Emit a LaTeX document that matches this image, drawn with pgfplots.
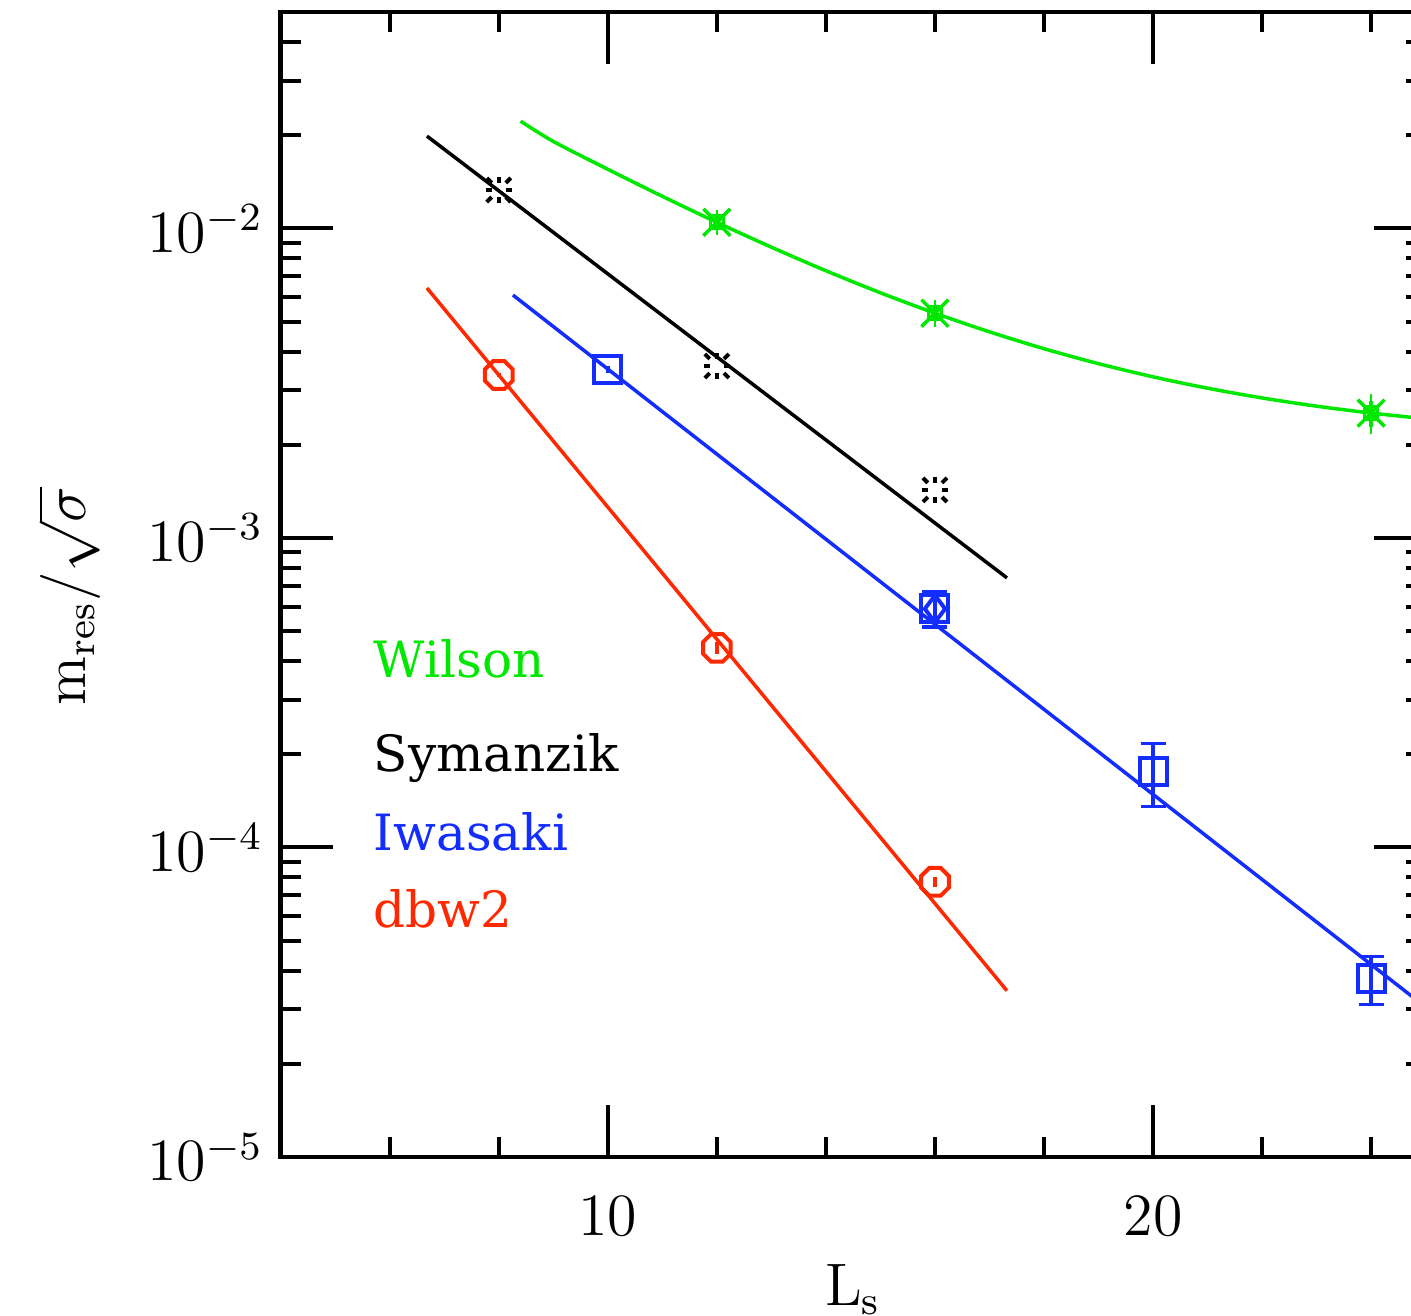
\documentclass[border=0pt]{standalone}
\usepackage{fontspec}
\usepackage{pgfplots}
\pgfplotsset{compat=1.18}
\newfontfamily\legfont{DejaVu Serif}

\definecolor{cgreen}{RGB}{0,232,0}
\definecolor{cblue}{RGB}{20,45,255}
\definecolor{cred}{RGB}{255,40,0}

% open octagon mark for the dbw2 points
\pgfdeclareplotmark{octagon}{%
  \pgfpathmoveto{\pgfpointpolar{22.5}{\pgfplotmarksize}}%
  \pgfpathlineto{\pgfpointpolar{67.5}{\pgfplotmarksize}}%
  \pgfpathlineto{\pgfpointpolar{112.5}{\pgfplotmarksize}}%
  \pgfpathlineto{\pgfpointpolar{157.5}{\pgfplotmarksize}}%
  \pgfpathlineto{\pgfpointpolar{202.5}{\pgfplotmarksize}}%
  \pgfpathlineto{\pgfpointpolar{247.5}{\pgfplotmarksize}}%
  \pgfpathlineto{\pgfpointpolar{292.5}{\pgfplotmarksize}}%
  \pgfpathlineto{\pgfpointpolar{337.5}{\pgfplotmarksize}}%
  \pgfpathclose
  \pgfusepathqstroke
}

\pgfplotsset{
  ebar/.style={error bars/.cd, y dir=both, y explicit,
    error bar style={line width=0.7pt},
    error mark options={rotate=90, mark size=2.5pt, line width=0.7pt}},
}

\begin{document}
\begin{tikzpicture}
\begin{axis}[
  name=ax,
  scale only axis,
  width=229pt, height=229pt,
  xmin=4, xmax=25,
  ymode=log, ymin=1e-5, ymax=0.05,
  xtick={10,20},
  minor xtick={6,8,12,14,16,18,22,24},
  major tick length=10.4pt,
  minor tick length=4pt,
  every tick/.append style={black, line width=0.8pt},
  axis line style={line width=0.9pt},
  tick label style={font=\large},
  xticklabel style={yshift=-4.5pt},
  xlabel={$\mathrm{L}_{\mathrm{s}}$},
  ylabel={$\mathrm{m}_{\mathrm{res}}/\sqrt{\sigma}$},
  label style={font=\large},
  xlabel style={at={(axis description cs:0.5,-0.116)}, anchor=center},
  ylabel style={at={(axis description cs:-0.185,0.49)}, anchor=center},
]

% Wilson
\addplot[cgreen, line width=0.7pt, smooth] coordinates {
  (8.4,0.0222) (9,0.01909) (10,0.01552) (11,0.01269) (12,0.010457)
  (13,0.008691) (14,0.007296) (15,0.006192) (16,0.005319) (17,0.004631)
  (18,0.004085) (19,0.003655) (20,0.003314) (21,0.003045) (22,0.002832)
  (23,0.002664) (24,0.002531) (25,0.002426)
};
\addplot[cgreen, only marks, mark=square, mark size=1.3pt,
  mark options={line width=0.6pt}, ebar, error mark options={mark size=1.4pt}] coordinates {
  (12,0.010457) +- (0,0.0004)
  (16,0.005319) +- (0,0.00025)
  (24,0.00253) +- (0,0.00024)
};
\addplot[cgreen, only marks, mark=x, mark size=3.8pt,
  mark options={line width=0.7pt}] coordinates {
  (12,0.010457) (16,0.005319) (24,0.00253)
};

% Symanzik
\addplot[black, line width=0.7pt] coordinates {(6.683,0.01986) (17.32,0.000743)};
\addplot[black, only marks, mark=+, mark size=2.6pt,
  mark options={line width=0.8pt, dash pattern=on 1.2pt off 2.8pt}] coordinates {
  (8,0.0133) (12,0.003592) (16,0.001429)
};
\addplot[black, only marks, mark=x, mark size=3.4pt,
  mark options={line width=0.8pt, dash pattern=on 1.4pt off 4pt}] coordinates {
  (8,0.0133) (12,0.003592) (16,0.001429)
};

% Iwasaki
\addplot[cblue, line width=0.7pt] coordinates {(8.26,0.006088) (25,3.05e-5)};
\addplot[cblue, only marks, mark=square, mark size=2.7pt,
  mark options={line width=0.8pt}, ebar, error mark options={mark size=0pt}] coordinates {
  (10,0.003509) +- (0,0.00009)
};
\addplot[cblue, only marks, mark=square, mark size=2.7pt,
  mark options={line width=0.8pt}, ebar] coordinates {
  (16,0.000590) += (0,0.00008) -= (0,0.000074)
  (20,0.0001758) += (0,0.0000407) -= (0,0.0000402)
  (24,3.778e-5) += (0,0.672e-5) -= (0,0.663e-5)
};
\addplot[cblue, only marks, mark=diamond, mark size=2.7pt,
  mark options={line width=0.8pt}] coordinates {(16,0.000590)};

% dbw2
\addplot[cred, line width=0.7pt] coordinates {(6.683,0.006415) (17.32,3.446e-5)};
\addplot[cred, only marks, mark=octagon, mark size=3pt,
  mark options={line width=0.8pt}, ebar, error mark options={mark size=0pt}] coordinates {
  (8,0.003359) +- (0,0.00005)
  (12,0.0004413) +- (0,0.00002)
  (16,7.747e-5) +- (0,0.3e-5)
};

\node[anchor=base west, inner sep=0, text=cgreen, font=\legfont] at (axis description cs:0.0806,0.4186) {Wilson};
\node[anchor=base west, inner sep=0, text=black, font=\legfont] at (axis description cs:0.0806,0.3364) {Symanzik};
\node[anchor=base west, inner sep=0, text=cblue, font=\legfont] at (axis description cs:0.0806,0.2674) {Iwasaki};
\node[anchor=base west, inner sep=0, text=cred, font=\legfont] at (axis description cs:0.0806,0.2001) {dbw2};
\end{axis}
\pgfresetboundingbox
\path[use as bounding box] ([shift={(-56.14pt,-31.8pt)}]ax.south west)
  rectangle ([shift={(226.06pt,231.4pt)}]ax.south west);
\end{tikzpicture}
\end{document}
